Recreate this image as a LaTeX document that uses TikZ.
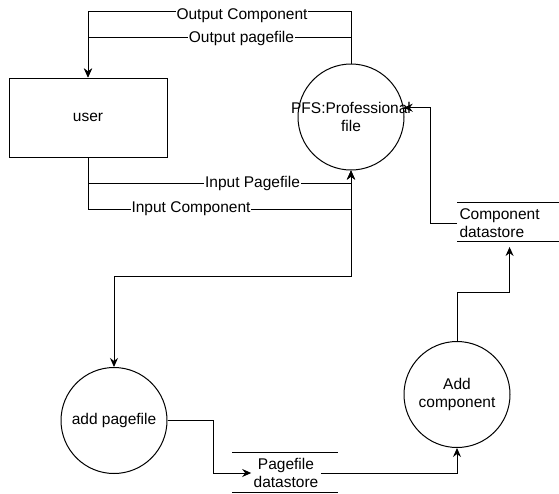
\documentclass[tikz,border=0pt]{standalone}
\usepackage{fontspec}
\setmainfont{Liberation Sans}
\usetikzlibrary{arrows.meta}
\begin{document}
\begin{tikzpicture}[x=1pt,y=-1pt,line width=1pt,
  >={Stealth[length=9pt,width=8pt,inset=3pt]},
  every node/.style={font=\fontsize{15.5}{18}\selectfont}]

\def\rad{106pt}
\tikzstyle{entity} = [draw, rectangle, minimum width=158pt, minimum height=79pt];
\tikzstyle{proc} = [draw, circle, minimum size=\rad, inner sep=0pt, align=center];
\tikzstyle{store} = [align=center, inner sep=2pt];
\tikzstyle{lbl} = [fill=white, inner sep=1pt];
\useasboundingbox (0,0) rectangle (559,493);

\node[entity] (user) at (88,117.5) {user};
\node[proc] (pfs) at (351,117) {\makebox[0pt]{PFS:Professional}\\file};
\node[proc] (addpage) at (114,420.5) {add pagefile};
\node[proc] (addcomp) at (457,394.5) {Add\\component};
\node[store] (pstore) at (286,473) {Pagefile\\datastore};
\node[store,anchor=west,align=left] (cstore) at (457,223) {Component\\datastore};

\draw (232,452) -- (338,452);
\draw (232,492) -- (338,492);
\draw (457,202) -- (559,202);
\draw (457,241) -- (559,241);

\draw[->] (pfs.north) -- ++(0,-52) -| (user.north);
\draw[->] (pfs.north) -- ++(0,-26) -| (user.north);
\draw[->] (user.south) -- ++(0,26) -| (pfs.south);
\draw[->] (user.south) -- ++(0,52) -| (pfs.south);
\draw[<->] (pfs.south) -- ++(0,106) -| (addpage.north);
\draw[->] (addpage.east) -- ++(46,0) |- (pstore.west);
\draw[->] (pstore.east) -| (addcomp.south);
\draw[->,shorten >=7pt] (addcomp.north) -- ++(0,-49) -| ([xshift=10pt]cstore.south);
\draw[->] (cstore.west) -- ++(-27,0) |- (pfs.10);

\node[lbl] (oc) at (242,16) {Output Component};
\node[lbl] (op) at (241.5,38) {Output pagefile};
\node[lbl] (ip) at (252.5,183) {Input Pagefile};
\node[lbl] (ic) at (191,209) {Input Component};

\end{tikzpicture}
\end{document}
